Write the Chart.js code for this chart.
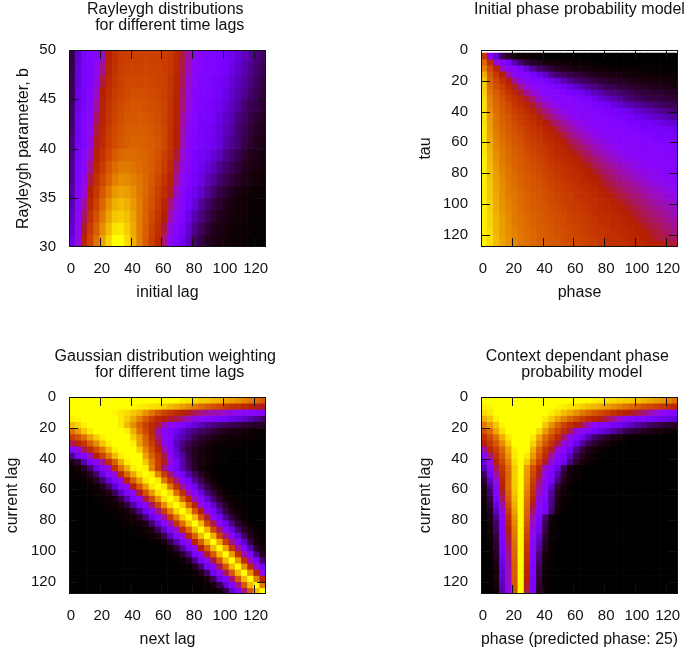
<!DOCTYPE html>
<html>
<head>
<meta charset="utf-8">
<title>Phase and lag probability models</title>
<script src="https://cdn.jsdelivr.net/npm/chart.js@4"></script>
<style>
  html, body { margin: 0; padding: 0; background: #fff; overflow: hidden; width: 687px; height: 653px; }
  canvas { position: absolute; }
</style>
</head>
<body>
<canvas id="rayleygh" width="335" height="306" style="left:0;top:0"></canvas>
<canvas id="initialPhase" width="335" height="306" style="left:412px;top:0"></canvas>
<canvas id="gaussian" width="335" height="306" style="left:0;top:347px"></canvas>
<canvas id="contextPhase" width="335" height="306" style="left:412px;top:347px"></canvas>
<script>
// column centres shared by all four maps
const lagCentres = [2,6,10,14,18,22,26,30,34,38,42,46,50,54,58,62,66,70,74,78,82,86,90,94,98,102,106,110,114,118,122,126];
const lagTicks = [0,20,40,60,80,100,120];
const rayleyghTicks = [30,35,40,45,50];

// values on the 0-100 colour scale, read row by row from the top of each panel
const rayleyghValues = [
[11,20,25,26,28,37,50,57,61,62,63,63,64,63,63,62,60,55,46,38,30,27,26,26,25,24,23,21,19,17,15,13],
[11,21,25,26,31,41,52,58,62,63,64,64,65,64,64,62,60,54,45,37,29,27,26,26,25,24,22,20,18,16,14,12],
[12,21,25,26,33,46,54,60,63,65,66,65,66,65,64,63,59,53,44,35,29,26,26,25,24,23,21,19,17,15,13,11],
[12,22,25,26,36,50,56,61,64,66,67,67,67,66,65,63,59,52,43,34,28,26,26,25,24,22,20,18,16,14,12,10],
[13,22,25,28,39,51,58,63,66,68,69,69,68,67,66,64,59,51,42,33,27,26,25,24,23,21,19,17,14,12,11,9],
[13,23,26,29,43,52,59,64,67,70,70,71,70,69,67,64,58,51,40,31,27,25,25,24,22,20,18,15,13,11,9,8],
[14,23,26,31,46,54,61,66,69,71,72,72,71,70,68,65,58,50,39,30,26,25,24,23,21,19,17,14,12,10,8,7],
[15,24,26,33,48,55,62,67,70,72,73,73,72,71,69,65,58,50,38,29,26,25,24,23,21,18,16,14,11,9,7,6],
[15,24,27,37,50,58,65,71,74,75,75,74,73,71,68,63,56,47,35,28,25,24,23,21,19,16,14,12,9,7,6,5],
[16,25,29,41,53,61,69,75,78,78,77,75,73,71,67,61,54,43,33,27,25,23,21,19,16,14,12,10,7,6,5,4],
[16,25,32,46,57,65,73,79,82,81,79,77,74,70,65,59,51,40,30,26,24,22,19,17,14,12,10,8,6,5,4,3],
[17,26,34,50,60,70,78,84,86,85,82,78,74,69,63,56,48,36,28,25,23,20,17,14,11,9,7,5,4,3,2,2],
[18,27,40,54,64,74,82,88,90,88,84,79,73,68,61,53,42,33,27,24,21,17,14,11,9,7,5,4,3,2,2,2],
[19,29,44,57,68,78,86,92,93,91,86,79,73,66,59,50,38,30,26,22,18,15,12,9,7,6,4,3,3,2,1,1],
[20,31,48,61,72,82,90,96,97,93,87,79,72,64,57,46,33,28,24,20,16,13,10,7,6,5,3,3,2,2,1,1],
[22,33,52,64,76,86,94,100,100,95,88,79,71,62,54,42,29,26,23,19,14,11,8,6,5,4,3,2,2,1,1,1]
];

const initialPhaseValues = [
[60,28,21,12,8,5,3,2,2,1],
[75,55,34,27,24,18,14,10,8,7,5,4,4,3,3,2,2,2,1,1],
[80,65,52,37,28,27,25,21,17,14,12,10,8,7,6,5,5,4,4,3,3,2,2,2,2,2,1,1,1,1,1,1],
[88,70,60,50,39,31,27,27,25,22,20,16,14,13,11,10,9,8,7,6,6,5,5,4,4,3,3,3,2,2,2,2],
[92,73,65,57,49,40,32,28,27,26,25,23,21,18,16,14,13,12,11,10,9,8,8,7,6,6,5,5,4,4,4,3],
[93,75,68,62,55,48,41,34,30,28,27,26,25,24,22,20,18,16,15,14,12,12,10,10,9,8,8,7,7,6,6,5],
[94,77,71,65,59,54,47,41,35,31,28,27,27,26,25,24,23,21,19,18,16,15,14,13,12,11,10,10,9,9,8,8],
[95,79,73,68,62,58,53,47,42,36,32,30,28,27,27,26,25,25,23,21,20,18,17,15,14,13,12,11,11,10,10,9],
[96,80,74,69,65,60,56,52,47,42,37,33,30,28,28,27,27,26,25,25,24,22,21,19,18,17,16,15,14,13,12,12],
[96,82,75,71,67,63,59,55,51,46,42,38,34,31,29,28,27,27,27,26,25,25,24,23,22,20,19,18,17,16,15,14],
[96,84,77,72,69,65,61,58,55,51,46,42,38,35,32,30,28,28,27,27,27,26,25,25,24,23,22,21,20,19,18,17],
[96,85,77,73,70,67,63,60,57,54,50,46,42,39,36,33,31,29,28,27,27,27,26,26,25,25,24,24,23,22,21,20],
[97,85,78,74,71,68,65,62,59,56,53,50,46,42,39,36,33,31,30,28,28,27,27,27,26,26,25,25,25,24,24,23],
[97,86,79,75,72,69,67,63,61,58,55,53,49,46,42,39,37,34,32,30,29,28,28,27,27,27,26,26,25,25,25,24],
[97,87,80,76,73,70,68,65,62,60,57,55,52,49,45,43,40,37,35,33,31,29,28,28,27,27,27,27,26,26,26,26],
[97,88,81,77,74,71,69,66,64,61,59,56,55,52,48,45,43,40,38,35,33,31,30,29,28,28,27,27,27,27,26,26],
[97,89,82,78,75,72,70,67,65,62,60,58,55,54,51,48,45,43,40,38,36,34,32,30,29,28,28,27,27,27,27,27],
[98,89,83,78,75,73,71,68,66,64,62,59,57,55,53,51,48,45,43,41,38,36,34,32,31,30,29,28,28,27,27,27],
[98,90,84,79,76,73,71,69,67,65,63,61,59,57,55,53,50,48,45,43,41,39,37,35,33,31,30,29,28,28,28,27],
[98,91,85,80,77,74,72,70,68,66,64,62,60,58,56,55,53,50,48,45,43,41,39,37,35,33,32,31,30,29,28,28],
[98,91,85,81,77,75,73,71,69,67,65,63,61,59,57,56,54,52,50,48,45,43,41,39,37,35,34,32,31,30,29,28],
[98,92,86,81,78,75,73,71,70,68,66,64,62,61,59,57,55,54,52,49,47,45,43,41,40,38,36,34,32,31,30,29],
[98,92,86,82,78,76,74,72,70,69,67,65,63,61,60,58,56,55,54,51,49,47,45,43,41,40,38,36,35,33,32,31],
[98,92,87,82,79,77,75,73,71,69,67,66,64,62,61,59,57,56,55,53,51,49,47,45,43,42,40,38,36,35,33,32],
[98,93,87,83,80,77,75,73,71,70,68,66,65,63,62,60,59,57,56,55,53,51,49,47,45,43,42,40,38,37,35,34],
[98,93,88,83,80,78,75,73,72,70,69,67,66,64,62,61,60,58,57,55,54,52,50,49,47,45,43,42,40,39,37,36],
[98,94,88,84,81,78,76,74,73,71,69,68,67,65,63,62,61,59,57,56,55,54,52,50,48,47,45,43,42,40,39,37],
[98,94,89,85,82,78,77,75,73,71,70,69,67,66,64,63,61,60,59,57,56,55,54,52,50,48,46,45,43,42,40,39],
[98,94,89,85,82,79,77,75,73,72,71,69,68,66,65,64,62,61,59,58,57,55,55,53,52,50,48,46,45,43,42,40],
[98,95,89,85,82,80,77,76,74,72,71,70,68,67,66,64,63,61,60,59,58,56,55,55,53,51,50,48,46,45,43,42],
[98,95,90,86,83,80,78,76,74,72,71,70,69,67,66,65,64,62,61,60,58,57,56,55,54,53,51,49,47,46,45,44],
[99,95,90,86,83,81,78,76,75,73,72,70,69,68,67,65,64,63,62,60,59,58,57,56,55,54,53,51,50,49,48,47]
];

const gaussianValues = [
[100,100,100,100,100,100,100,100,100,100,100,100,100,100,100,100,100,100,98,97,95,93,92,90,89,87,85,83,80,77,74,70],
[100,100,100,100,100,100,100,100,100,100,99,98,97,96,95,93,90,88,85,82,78,75,72,68,65,61,58,56,53,51,49,48],
[100,100,100,100,100,100,100,99,97,95,92,89,83,77,70,64,59,55,51,48,45,42,40,38,37,35,32,30,29,28,27,27],
[98,99,100,100,100,100,100,100,97,93,87,79,71,62,55,50,47,45,41,37,33,30,28,26,25,24,22,21,20,18,16,14],
[90,94,98,100,100,100,100,100,97,90,82,72,63,55,47,36,31,28,26,23,21,19,17,15,14,13,12,11,10,9,8,8],
[76,84,92,97,100,100,100,100,100,98,88,76,65,54,38,28,26,23,20,17,15,13,12,10,8,7,5,5,4,3,2,2],
[62,68,76,86,93,98,100,100,100,100,93,85,72,58,42,29,26,21,18,15,12,9,8,6,5,4,3,3,2,2,1,1],
[45,52,60,72,82,92,98,100,100,100,98,85,74,62,46,30,25,19,15,12,9,7,5,4,3,2,2,1,1,1,0,0],
[27,33,45,55,67,78,90,98,100,100,100,93,80,67,52,38,26,20,14,10,7,5,3,2,1,1,1,0,0,0,0,0],
[16,24,27,37,50,64,78,90,98,100,100,100,86,72,60,45,29,22,17,11,7,4,3,2,1,1,0,0,0,0,0,0],
[6,10,18,25,29,40,56,72,88,98,100,100,92,78,62,48,33,25,18,12,8,5,3,2,1,1,0,0,0,0,0,0],
[2,4,8,14,22,27,35,58,76,88,98,100,98,80,62,42,28,24,18,13,8,4,2,1,0,0,0,0,0,0,0,0],
[1,2,4,8,14,22,27,33,55,74,87,97,100,97,80,62,43,28,24,18,13,8,4,2,1,0,0,0,0,0,0,0],
[0,1,2,4,8,14,21,26,32,53,72,86,97,100,97,78,60,42,28,24,17,12,7,3,1,0,0,0,0,0,0,0],
[0,0,1,2,3,7,13,20,26,31,50,70,85,97,100,96,77,58,40,28,23,16,11,6,3,1,0,0,0,0,0,0],
[0,0,0,1,2,3,6,12,19,25,30,48,68,84,96,100,95,75,56,38,28,22,15,10,5,2,1,0,0,0,0,0],
[0,0,0,0,1,2,3,5,11,18,25,29,46,66,83,96,100,94,73,54,36,27,21,14,9,4,2,1,0,0,0,0],
[0,0,0,0,0,1,2,3,5,10,17,24,28,44,64,82,95,100,93,72,52,34,26,20,13,8,3,2,1,0,0,0],
[0,0,0,0,0,0,1,2,3,4,9,16,23,27,42,62,80,94,100,92,70,50,32,25,18,11,6,3,1,0,0,0],
[0,0,0,0,0,0,0,1,2,3,4,8,15,22,27,40,60,78,93,100,91,68,48,30,24,16,10,5,2,1,0,0],
[0,0,0,0,0,0,0,0,1,2,3,4,7,14,21,27,38,58,76,92,100,90,66,46,29,23,15,9,4,2,1,0],
[0,0,0,0,0,0,0,0,0,0,1,2,3,6,13,20,26,36,56,74,91,100,89,65,44,28,22,14,8,4,2,1],
[0,0,0,0,0,0,0,0,0,0,0,1,2,3,6,12,19,26,34,54,73,90,100,88,63,42,28,21,13,7,3,1],
[0,0,0,0,0,0,0,0,0,0,0,0,0,1,2,5,11,18,26,32,52,72,90,100,87,62,41,27,20,11,5,2],
[0,0,0,0,0,0,0,0,0,0,0,0,0,0,0,1,4,10,17,25,30,50,71,90,100,86,60,40,26,18,9,4],
[0,0,0,0,0,0,0,0,0,0,0,0,0,0,0,0,1,3,9,16,25,29,48,70,90,100,85,58,38,26,16,7],
[0,0,0,0,0,0,0,0,0,0,0,0,0,0,0,0,0,1,3,8,15,24,28,46,70,90,100,84,56,36,25,14],
[0,0,0,0,0,0,0,0,0,0,0,0,0,0,0,0,0,0,1,2,7,14,24,27,45,70,90,100,83,55,34,24],
[0,0,0,0,0,0,0,0,0,0,0,0,0,0,0,0,0,0,0,1,2,6,13,23,27,44,70,90,100,82,53,32],
[0,0,0,0,0,0,0,0,0,0,0,0,0,0,0,0,0,0,0,0,1,2,5,12,22,26,43,70,90,100,80,52],
[0,0,0,0,0,0,0,0,0,0,0,0,0,0,0,0,0,0,0,0,0,1,2,5,11,21,26,42,70,90,100,78],
[0,0,0,0,0,0,0,0,0,0,0,0,0,0,0,0,0,0,0,0,0,0,1,2,4,10,20,26,42,70,90,100]
];

const contextPhaseValues = [
[100,100,100,100,100,100,100,100,100,100,100,100,100,100,100,100,100,100,98,97,96,95,94,93,92,91,89,87,85,83,80,76],
[98,99,100,100,100,100,100,100,100,100,100,100,99,98,96,95,93,91,89,87,85,82,80,77,74,71,68,65,62,59,56,54],
[95,97,100,100,100,100,100,100,100,100,100,98,95,91,87,83,78,74,70,66,62,58,54,51,48,46,42,38,34,30,27,26],
[88,92,98,100,100,100,100,100,100,100,97,92,86,80,74,68,62,57,53,49,45,41,36,31,28,26,26,25,24,23,22,21],
[78,84,92,99,100,100,100,100,100,100,92,83,73,64,56,50,45,36,30,27,26,24,23,21,19,17,15,13,12,10,9,8],
[68,75,87,96,100,100,100,100,100,95,85,74,65,55,45,33,28,26,24,22,20,17,15,12,10,9,7,6,5,4,3,3],
[58,66,76,88,97,100,100,100,97,87,75,65,54,43,31,26,23,18,14,11,9,6,5,3,2,2,1,1],
[50,60,70,82,93,100,100,100,94,82,70,58,46,34,27,23,17,12,9,6,4,2,1,1],
[38,52,63,74,87,98,100,100,88,74,60,48,34,27,23,16,10,6,4,2,1],
[27,42,58,70,84,97,100,97,84,69,55,40,28,25,19,12,7,4,2,1],
[22,33,52,65,80,95,100,93,78,62,48,33,26,23,15,9,5,3,1],
[18,27,45,60,76,93,100,85,68,52,35,27,22,12,5,2,1],
[13,24,40,56,74,93,100,84,65,48,32,26,18,9,4,2,1],
[9,20,34,53,75,93,100,83,62,44,30,25,15,7,3,1],
[6,16,29,50,75,93,100,81,59,40,28,20,10,4,1],
[4,14,27,47,73,92,100,79,56,37,27,17,7,3,1],
[3,11,25,44,70,90,100,77,52,33,26,16,6,2,1],
[2,9,22,38,66,88,100,75,47,30,25,15,5,2,1],
[2,7,19,33,62,86,100,73,43,28,25,14,4,1],
[1,6,16,28,56,83,100,71,38,25,14,3,1],
[1,5,14,27,54,81,100,69,35,24,12,3,1],
[1,4,13,26,50,79,100,66,33,23,11,2,1],
[0,3,11,26,47,78,100,63,31,21,9,2,1],
[0,3,10,25,45,76,100,61,29,19,8,2],
[0,2,9,25,43,75,100,59,28,17,7,2],
[0,2,8,24,41,74,100,57,27,15,5,1],
[0,1,7,23,40,73,100,55,27,14,4,1],
[0,1,6,22,38,72,100,53,26,12,3,1],
[0,1,5,21,37,72,100,52,26,11,3,1],
[0,1,5,20,36,71,100,50,25,10,2],
[0,1,4,19,34,70,100,48,25,9,2],
[0,0,3,18,32,70,100,46,24,8,2]
];

// gnuplot's default palette: sqrt(x), x^3, sin(2 pi x)
// readings under the purple knee were judged by eye too high, so pull them down
function paletteColour(v) {
  const x = (v < 27 ? v * v / 27 : v) / 100;
  const r = Math.sqrt(x);
  const g = x * x * x;
  const b = Math.max(0, Math.sin(2 * Math.PI * x));
  return `rgb(${Math.round(r * 255)},${Math.round(g * 255)},${Math.round(b * 255)})`;
}

// one floating-bar dataset per row, so every cell goes through the chart's scales
function rowsToDatasets(rows, yStart, yStep) {
  return rows.map((row, r) => {
    const a = yStart + r * yStep;
    const b = a + yStep;
    return {
      data: lagCentres.map(x => ({ x: x, y: [Math.min(a, b), Math.max(a, b)] })),
      backgroundColor: lagCentres.map((x, c) => paletteColour(row[c] ?? 0)),
      borderWidth: 0,
      barPercentage: 1,
      categoryPercentage: 1,
      grouped: false
    };
  });
}

// gnuplot frame with ticks pointing inwards on all four sides
const frameTicks = {
  id: 'frameTicks',
  afterDatasetsDraw(chart) {
    const { ctx, chartArea: a, scales } = chart;
    const len = 9;
    ctx.save();
    ctx.strokeStyle = '#111';
    ctx.lineWidth = 1;
    ctx.beginPath();
    scales.x.ticks.forEach(t => {
      const px = Math.min(Math.round(scales.x.getPixelForValue(t.value)) + 0.5, a.right - 0.5);
      ctx.moveTo(px, a.top); ctx.lineTo(px, a.top + len);
      ctx.moveTo(px, a.bottom); ctx.lineTo(px, a.bottom - len);
    });
    scales.y.ticks.forEach(t => {
      const py = Math.min(Math.round(scales.y.getPixelForValue(t.value)) + 0.5, a.bottom - 0.5);
      ctx.moveTo(a.left, py); ctx.lineTo(a.left + len, py);
      ctx.moveTo(a.right, py); ctx.lineTo(a.right - len, py);
    });
    ctx.stroke();
    ctx.strokeRect(a.left + 0.5, a.top + 0.5, a.width - 1, a.height - 1);
    ctx.restore();
  }
};

const fontFamily = "'Liberation Sans', Arial, sans-serif";
const tickFont = { family: fontFamily, size: 15 };
const labelFont = { family: fontFamily, size: 16 };
Chart.defaults.color = '#111';

function drawMap(id, cfg) {
  const titleLines = cfg.title.length;
  new Chart(document.getElementById(id), {
    type: 'bar',
    data: { datasets: rowsToDatasets(cfg.values, cfg.yStart, cfg.yStep) },
    plugins: [frameTicks],
    options: {
      responsive: false,
      animation: false,
      events: [],
      layout: { padding: { left: 0, right: 0, top: 0, bottom: 4 } },
      plugins: {
        legend: { display: false },
        tooltip: { enabled: false },
        title: {
          display: true,
          text: cfg.title,
          color: '#111',
          font: { ...labelFont, weight: 'normal', lineHeight: 1 },
          padding: { top: 2, bottom: 48 - 16 * titleLines }
        }
      },
      scales: {
        x: {
          type: 'linear',
          min: 0,
          max: 128,
          offset: false,
          grid: { display: false, drawTicks: false },
          border: { display: false },
          afterBuildTicks: s => { s.ticks = lagTicks.map(v => ({ value: v })); },
          afterFit: s => { s.height = 55; },
          ticks: { font: tickFont, padding: 13, labelOffset: 2, autoSkip: false, maxRotation: 0 },
          title: { display: true, text: cfg.xLabel, font: labelFont, padding: 0 }
        },
        y: {
          type: 'linear',
          min: cfg.yMin,
          max: cfg.yMax,
          reverse: cfg.reverse,
          grid: { display: false, drawTicks: false },
          border: { display: false },
          afterBuildTicks: s => { s.ticks = cfg.yTicks.map(v => ({ value: v })); },
          afterFit: s => { s.width = 69; },
          ticks: { font: tickFont, padding: 13, autoSkip: false },
          title: { display: true, text: cfg.yLabel, font: labelFont, padding: { top: cfg.yTitlePad, bottom: 0 } }
        },
        // empty axis on the right keeps the title centred over the plot
        spacer: {
          type: 'linear',
          position: 'right',
          grid: { display: false, drawTicks: false },
          border: { display: false },
          ticks: { display: false },
          afterFit: s => { s.width = 69; }
        }
      }
    }
  });
}

drawMap('rayleygh', {
  title: ['Rayleygh distributions ', ' for different time lags'],
  xLabel: 'initial lag', yLabel: 'Rayleygh parameter, b',
  values: rayleyghValues, yStart: 50, yStep: -1.25,
  yMin: 30, yMax: 50, reverse: false, yTicks: rayleyghTicks, yTitlePad: 14
});
drawMap('initialPhase', {
  title: ['Initial phase probability model'],
  xLabel: 'phase', yLabel: 'tau',
  values: initialPhaseValues, yStart: 2, yStep: 3.9375,
  yMin: 0, yMax: 128, reverse: true, yTicks: lagTicks, yTitlePad: 4
});
drawMap('gaussian', {
  title: ['Gaussian distribution weighting ', ' for different time lags'],
  xLabel: 'next lag', yLabel: 'current lag',
  values: gaussianValues, yStart: 0, yStep: 4,
  yMin: 0, yMax: 128, reverse: true, yTicks: lagTicks, yTitlePad: 3
});
drawMap('contextPhase', {
  title: ['Context dependant phase ', ' probability model'],
  xLabel: 'phase (predicted phase: 25)', yLabel: 'current lag',
  values: contextPhaseValues, yStart: 0, yStep: 4,
  yMin: 0, yMax: 128, reverse: true, yTicks: lagTicks, yTitlePad: 4
});
</script>
</body>
</html>
